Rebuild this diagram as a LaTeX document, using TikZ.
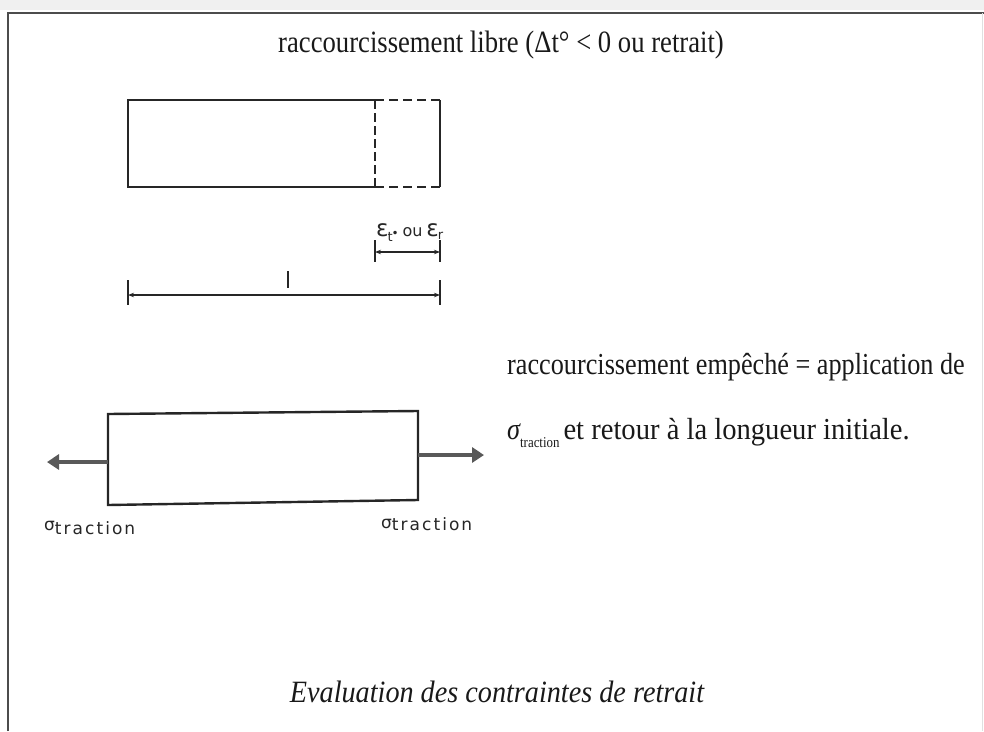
\documentclass[tikz,border=0pt]{standalone}
\usepackage{fontspec}
\usetikzlibrary{arrows.meta}
\setmainfont{Liberation Serif}
\newfontfamily\condserif[FakeStretch=0.86]{Liberation Serif}
\newfontfamily\capserif[FakeStretch=0.91]{Liberation Serif}
\newfontfamily\labfont[LetterSpace=12]{DejaVu Sans}
\newfontfamily\epsfont{DejaVu Sans}
\begin{document}
\begin{tikzpicture}[x=1pt,y=-1pt,
  ink/.style={draw=black!85,line width=2.4pt},
  dimline/.style={draw=black!85,line width=1.4pt},
  tick/.style={draw=black!85,line width=1.4pt},
  bigarrow/.style={draw=black!65,line width=4.5pt,-{Triangle[length=12pt,width=15pt]}},
  title/.style={font=\condserif\fontsize{31}{34}\selectfont,text=black!90,inner sep=0pt},
  body/.style={font=\condserif\fontsize{30.5}{34}\selectfont,text=black!90,inner sep=0pt,anchor=west},
  lab/.style={font=\labfont\fontsize{17}{19}\selectfont,text=black!85,inner sep=0pt}]
\useasboundingbox (0,0) rectangle (984,731);
% frame
\fill[black!6] (0,0) rectangle (984,10);
\draw[black!70,line width=2.2pt] (8,731) -- (8,13) -- (984,13);
\draw[black!12,line width=1pt] (982,13) -- (982,731);
% title
\node[title] (t) at (501,45) {raccourcissement libre (Δt° < 0 ou retrait)};
% top bar
\coordinate (a1) at (128,100); \coordinate (a2) at (375,100);
\coordinate (a3) at (375,187); \coordinate (a4) at (128,187);
\coordinate (b2) at (440,100); \coordinate (b3) at (440,187);
\draw[ink] (a2) -- (a1) -- (a4) -- (a3);
\draw[ink,dash pattern=on 9pt off 5pt] (a2) -- (b2);
\draw[ink,dash pattern=on 9pt off 5pt] (a3) -- (b3);
\draw[ink,dash pattern=on 9pt off 4pt] (a2) -- (a3);
\draw[ink] (b2) -- (b3);
% epsilon dimension
\node[font=\epsfont\fontsize{23}{25}\selectfont,text=black!85,inner sep=0pt,anchor=base west] (eps) at (376,236) {ε\kern-1pt\raisebox{-5pt}{\fontsize{13}{14}\selectfont t}\kern-1pt\raisebox{-1pt}{\fontsize{12}{13}\selectfont•}\,{\fontsize{16}{17}\selectfont ou}\,ε\kern-1pt\raisebox{-3pt}{\fontsize{13}{14}\selectfont r}};
\coordinate (e1) at (375,252); \coordinate (e2) at (440,252);
\draw[tick] (375,240) -- (375,262);
\draw[tick] (440,240) -- (440,262);
\draw[dimline,{Stealth[length=6pt]}-{Stealth[length=6pt]}] (e1) -- (e2);
% l dimension
\coordinate (l1) at (128,295); \coordinate (l2) at (440,295);
\draw[tick] (128,280) -- (128,305);
\draw[tick] (440,280) -- (440,305);
\draw[dimline,{Stealth[length=6pt]}-{Stealth[length=6pt]}] (l1) -- (l2);
\draw[tick,line width=1.8pt] (288,271) -- (288,288);
\node[inner sep=0pt] (l) at (288,280) {};
% bottom bar
\coordinate (c1) at (108,414); \coordinate (c2) at (418,411);
\coordinate (c3) at (418,500); \coordinate (c4) at (108,505);
\draw[ink] (c1) -- (c2) -- (c3) -- (c4) -- cycle;
\coordinate (la) at (108,462); \coordinate (lb) at (47,462);
\coordinate (ra) at (418,455); \coordinate (rb) at (484,455);
\draw[bigarrow] (la) -- (lb);
\draw[bigarrow] (ra) -- (rb);
\node[lab,anchor=west] (sl) at (44,528) {σ\raisebox{-4pt}{traction}};
\node[lab,anchor=west] (sr) at (381,524) {σ\raisebox{-2pt}{traction}};
% right text
\node[body] (r1) at (507,367) {raccourcissement empêché = application de};
\node[body] (r2) at (507,433) {{\itshape σ}\raisebox{-8pt}{\fontsize{15}{16}\selectfont traction}\hspace{4pt}\scalebox{1.09}[1]{et retour à la longueur initiale.}};
% caption
\node[inner sep=0pt,text=black!90,font=\capserif\itshape\fontsize{31}{34}\selectfont] (cap) at (497,692) {Evaluation des contraintes de retrait};
\end{tikzpicture}
\end{document}
